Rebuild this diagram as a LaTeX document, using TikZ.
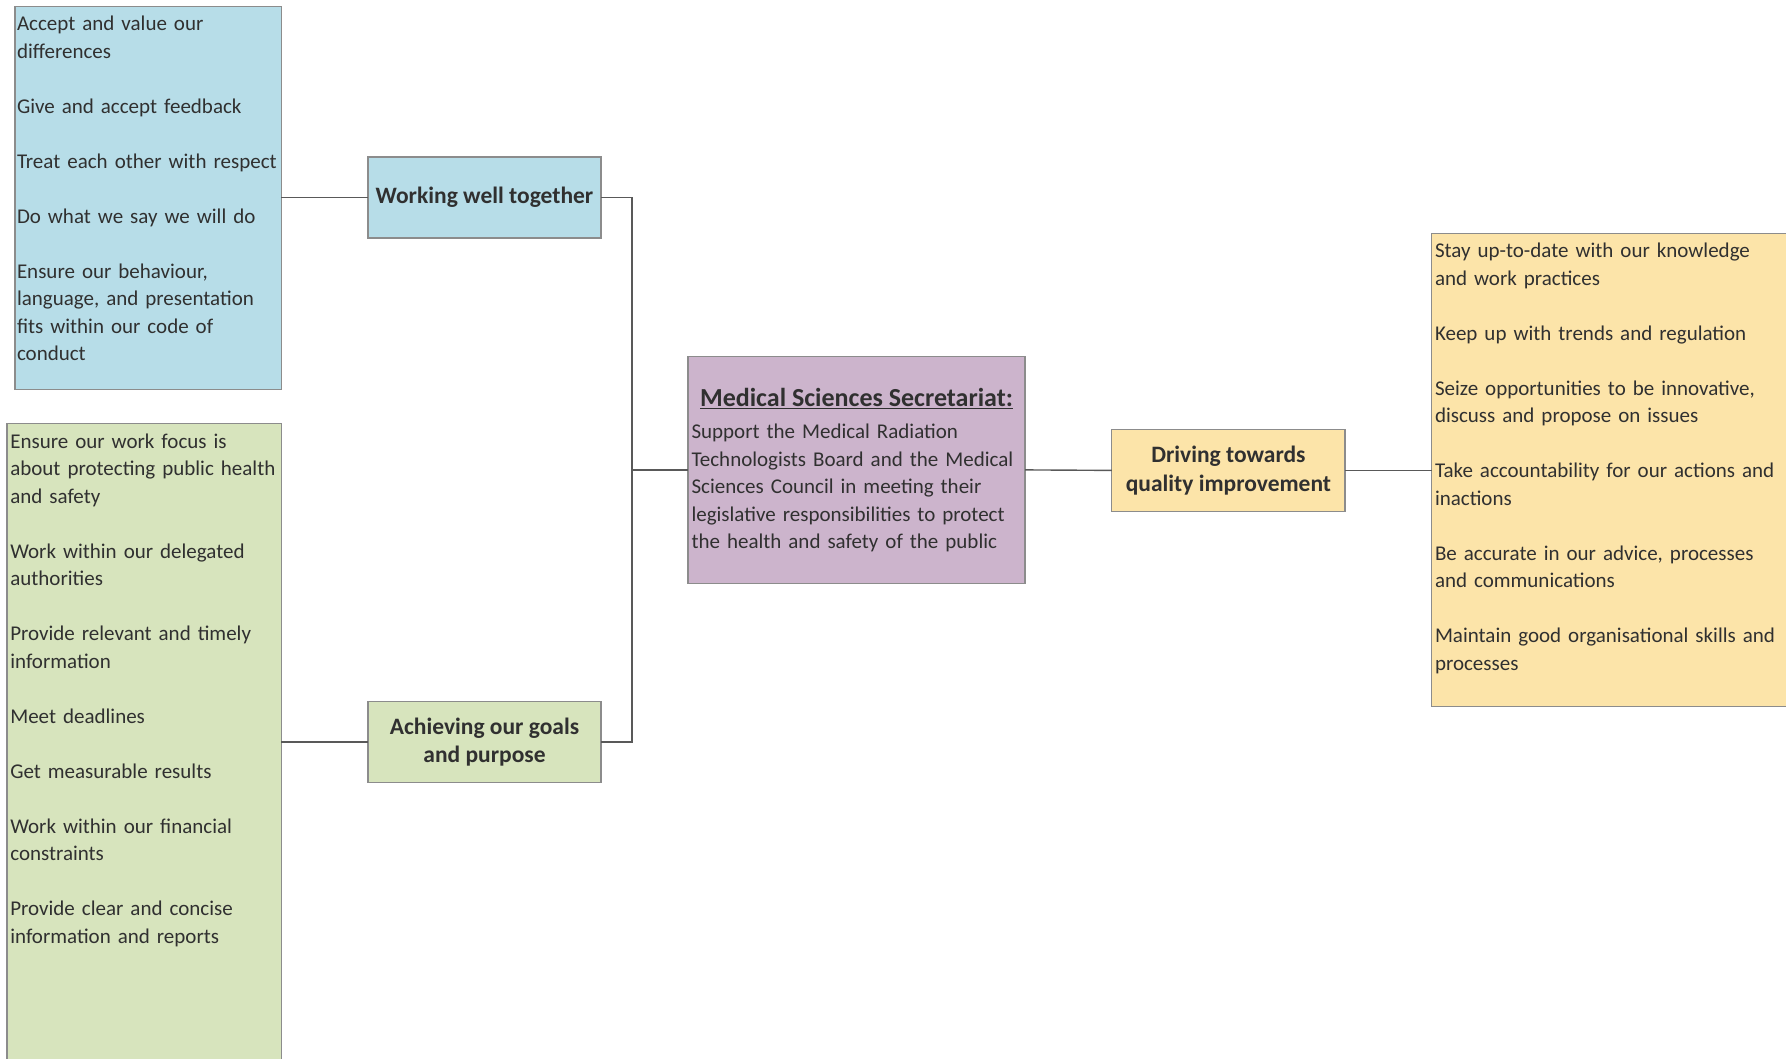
\documentclass[tikz,border=0pt]{standalone}
\usepackage{fontspec}
\setmainfont{Carlito}
\definecolor{bluefill}{HTML}{B7DDE8}
\definecolor{greenfill}{HTML}{D7E4BD}
\definecolor{purplefill}{HTML}{CCB4CC}
\definecolor{yellowfill}{HTML}{FCE4A9}
\definecolor{edgegray}{HTML}{8C8C8C}
\definecolor{txt}{HTML}{303030}
\definecolor{wire}{HTML}{595959}
\begin{document}
\begin{tikzpicture}[x=1pt,y=-1pt,
  box/.style={draw=edgegray, line width=1.4pt, inner sep=0pt, outer sep=0pt},
  listtext/.style={anchor=base west, inner sep=0pt, outer sep=0pt, text width=450pt, align=left,
    font=\fontsize{21}{27.5}\selectfont, text=txt},
  headbox/.style={box, align=center, text=txt, font=\fontsize{23.5}{28.5}\selectfont\bfseries},
  conn/.style={draw=wire, line width=1.4pt}]
\useasboundingbox (0,0) rectangle (1786,1059);

% list boxes
\node[box, fill=bluefill, anchor=north west, minimum width=266.5pt, minimum height=382.7pt] (bl) at (14.8,6.8) {};
\node[box, fill=greenfill, anchor=north west, minimum width=274.5pt, minimum height=645pt] (gl) at (6.8,423.7) {};
\node[box, fill=yellowfill, anchor=north west, minimum width=370pt, minimum height=472.7pt] (yl) at (1431.7,233.5) {};

\node[listtext] (blt) at (17,31) {Accept and value our\\differences\\[27.5pt]Give and accept feedback\\[27.5pt]Treat each other with respect\\[27.5pt]Do what we say we will do\\[27.5pt]Ensure our behaviour,\\language, and presentation\\fits within our code of\\conduct};

\node[listtext] (glt) at (10.3,448) {Ensure our work focus is\\about protecting public health\\and safety\\[27.5pt]Work within our delegated\\authorities\\[27.5pt]Provide relevant and timely\\information\\[27.5pt]Meet deadlines\\[27.5pt]Get measurable results\\[27.5pt]Work within our financial\\constraints\\[27.5pt]Provide clear and concise\\information and reports};

\node[listtext] (ylt) at (1435,257.6) {Stay up-to-date with our knowledge\\and work practices\\[27.5pt]Keep up with trends and regulation\\[27.5pt]Seize opportunities to be innovative,\\discuss and propose on issues\\[27.5pt]Take accountability for our actions and\\inactions\\[27.5pt]Be accurate in our advice, processes\\and communications\\[27.5pt]Maintain good organisational skills and\\processes};

% heading boxes
\node[headbox, fill=bluefill, minimum width=233pt, minimum height=81pt] (ww) at (484.5,197.5) {Working well together};
\node[headbox, fill=greenfill, minimum width=233pt, minimum height=81pt] (ach) at (484.5,742) {Achieving our goals\\and purpose};
\node[headbox, fill=yellowfill, minimum width=233.3pt, minimum height=82pt] (drv) at (1228.4,470.4) {Driving towards\\quality improvement};

% central box
\node[box, fill=purplefill, minimum width=337pt, minimum height=226.7pt] (mss) at (856.5,469.9) {};
\node[anchor=base, inner sep=0pt, text=txt, font=\fontsize{26}{30}\selectfont\bfseries] (msst) at (856.5,406.5) {\underline{Medical Sciences Secretariat:}};
\node[listtext] (mssb) at (691.5,438.7) {Support the Medical Radiation\\Technologists Board and the Medical\\Sciences Council in meeting their\\legislative responsibilities to protect\\the health and safety of the public};

% connectors
\coordinate (bus) at (632,469.9);
\draw[conn] (bl.east |- ww.west) -- (ww.west);
\draw[conn] (gl.east |- ach.west) -- (ach.west);
\draw[conn] (ww.east) -- (ww.east -| bus) -- (ach.east -| bus) -- (ach.east);
\draw[conn] (bus) -- (mss.west);
\draw[conn] (mss.east) -- (drv.west);
\draw[conn] (drv.east) -- (yl.west |- drv.east);
\end{tikzpicture}
\end{document}
